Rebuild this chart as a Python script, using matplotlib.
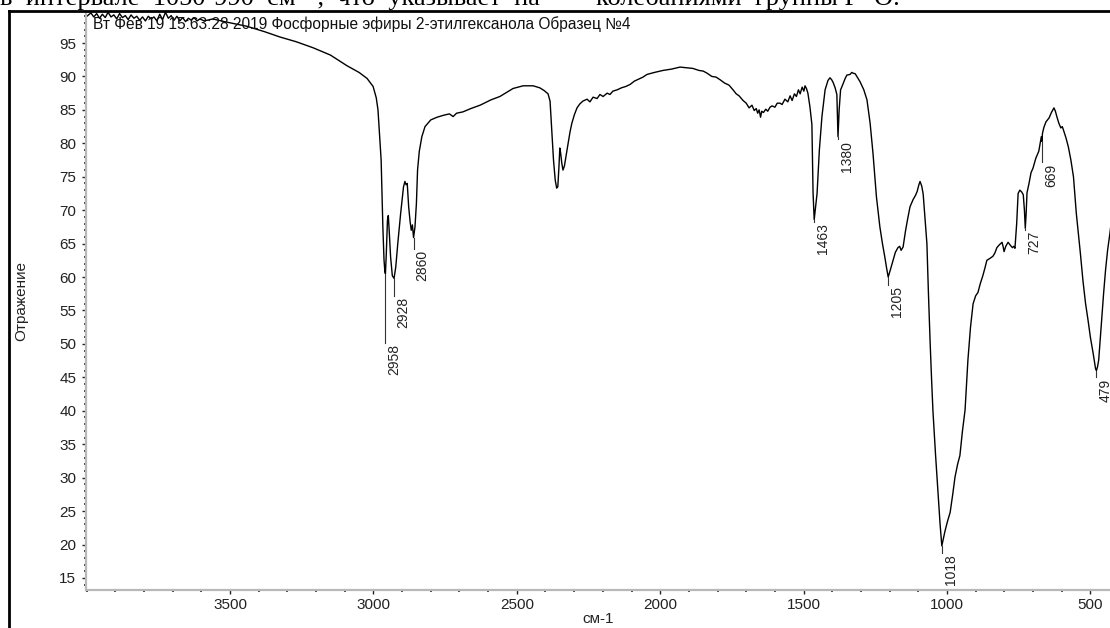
import numpy as np
import matplotlib
matplotlib.use("Agg")
import matplotlib.pyplot as plt
from matplotlib.lines import Line2D
from matplotlib.ticker import MultipleLocator

plt.rcParams['font.family'] = ['Liberation Sans', 'DejaVu Sans']

# --- IR spectrum, wavenumber (cm-1) vs reflectance (%) ---
wavenumber = [
    3999, 3985, 3975, 3965, 3955, 3945, 3935, 3925, 3915, 3905, 3895, 3885, 3875, 3865,
    3855, 3845, 3835, 3825, 3815, 3805, 3795, 3785, 3775, 3765, 3755, 3745, 3735, 3725,
    3715, 3705, 3695, 3685, 3675, 3665, 3655, 3645, 3635, 3625, 3615, 3605, 3590, 3570,
    3560, 3520, 3441, 3380, 3326, 3270, 3211, 3150, 3092, 3050, 3022, 3001, 2990, 2984,
    2978, 2973, 2970, 2967, 2963, 2960, 2958, 2955, 2951, 2948, 2945, 2940, 2934, 2928,
    2922, 2915, 2905, 2895, 2890, 2886, 2882, 2877, 2872, 2868, 2864, 2860, 2855, 2850,
    2846, 2840, 2831, 2820, 2800, 2778, 2755, 2735, 2722, 2710, 2688, 2660, 2628, 2590,
    2559, 2513, 2478, 2443, 2420, 2405, 2391, 2384, 2378, 2372, 2366, 2361, 2357, 2353,
    2350, 2347, 2343, 2339, 2334, 2328, 2321, 2314, 2308, 2299, 2290, 2280, 2270, 2255,
    2245, 2234, 2220, 2210, 2199, 2185, 2175, 2165, 2150, 2135, 2120, 2105, 2090, 2075,
    2060, 2046, 2020, 1990, 1960, 1931, 1910, 1886, 1865, 1850, 1837, 1820, 1805, 1791,
    1775, 1760, 1746, 1735, 1725, 1711, 1700, 1690, 1680, 1672, 1665, 1660, 1655, 1650,
    1646, 1640, 1632, 1625, 1617, 1610, 1600, 1592, 1582, 1575, 1565, 1555, 1547, 1540,
    1532, 1525, 1518, 1512, 1505, 1499, 1495, 1490, 1485, 1478, 1471, 1467, 1463, 1457,
    1453, 1445, 1436, 1425, 1415, 1408, 1402, 1397, 1390, 1384, 1380, 1376, 1371, 1366,
    1355, 1349, 1338, 1332, 1328, 1320, 1310, 1303, 1290, 1279, 1268, 1258, 1246, 1234,
    1225, 1216, 1210, 1205, 1198, 1188, 1180, 1171, 1165, 1160, 1153, 1145, 1138, 1129,
    1118, 1110, 1104, 1098, 1094, 1088, 1083, 1077, 1070, 1065, 1059, 1054, 1049, 1040,
    1031, 1024, 1018, 1012, 1007, 998, 989, 980, 972, 963, 955, 946, 937, 932,
    927, 918, 909, 900, 892, 884, 875, 868, 861, 850, 840, 833, 826, 818,
    808, 804, 801, 795, 787, 780, 772, 767, 763, 757, 752, 746, 739, 734,
    730, 727, 724, 721, 714, 707, 700, 690, 680, 675, 671, 669, 667, 662,
    655, 644, 636, 627, 622, 617, 610, 603, 598, 594, 585, 577, 568, 559,
    549, 542, 535, 526, 517, 508, 500, 490, 482, 479, 475, 471, 466, 461,
    454, 447, 440, 432, 425,
]
reflectance = [
    99.0, 99.5, 98.9, 99.4, 98.7, 99.3, 98.8, 99.6, 98.9, 99.2, 98.6, 99.4, 98.8, 99.1,
    98.5, 99.2, 98.7, 99.0, 98.4, 98.9, 98.3, 99.0, 98.6, 98.9, 98.3, 99.3, 98.5, 99.6,
    98.7, 99.1, 98.4, 99.0, 98.3, 98.8, 98.2, 98.7, 98.4, 98.8, 98.3, 98.6, 98.3, 98.5,
    98.6, 98.2, 97.5, 96.7, 95.9, 95.2, 94.3, 93.2, 91.6, 90.6, 89.7, 88.5, 86.8, 85.0,
    81.0, 77.5, 72.6, 67.5, 62.6, 60.8, 60.5, 63.5, 68.5, 69.2, 67.0, 63.0, 60.2, 59.8,
    61.5, 65.0, 69.5, 73.5, 74.3, 73.8, 74.0, 70.5, 68.3, 67.0, 67.8, 65.9, 67.5, 71.0,
    76.0, 78.8, 81.0, 82.5, 83.5, 83.9, 84.2, 84.4, 84.0, 84.5, 84.7, 85.2, 85.7, 86.5,
    87.0, 88.2, 88.6, 88.6, 88.3, 87.9, 87.4, 86.3, 82.0, 77.5, 74.5, 73.3, 73.5, 76.5,
    79.3, 78.5, 77.0, 76.0, 76.6, 78.2, 80.0, 81.8, 83.0, 84.3, 85.3, 85.9, 86.3, 86.6,
    86.2, 86.9, 86.7, 87.3, 87.0, 87.5, 87.3, 87.8, 88.0, 88.3, 88.5, 88.8, 89.3, 89.6,
    89.9, 90.3, 90.6, 90.9, 91.1, 91.4, 91.3, 91.2, 90.9, 90.8, 90.5, 90.0, 89.9, 89.5,
    89.0, 88.7, 88.0, 87.4, 87.1, 86.4, 86.0, 85.3, 85.7, 84.9, 85.2, 84.5, 85.0, 83.9,
    84.8, 84.6, 85.1, 84.8, 85.4, 85.6, 85.4, 86.0, 86.0, 85.8, 86.6, 86.2, 87.1, 86.4,
    87.4, 87.0, 88.0, 87.4, 88.4, 87.8, 88.6, 88.2, 87.5, 85.5, 82.8, 72.6, 68.6, 71.0,
    72.5, 79.0, 84.0, 88.0, 89.4, 89.8, 89.5, 89.1, 88.3, 87.3, 81.0, 85.0, 88.0, 88.5,
    89.7, 90.2, 90.3, 90.6, 90.5, 90.4, 89.7, 89.2, 88.0, 86.5, 83.0, 78.5, 72.0, 67.5,
    65.0, 62.8, 61.2, 60.0, 61.0, 62.5, 63.7, 64.4, 64.6, 64.0, 64.5, 66.8, 68.5, 70.5,
    71.6, 72.2, 72.8, 73.8, 74.3, 73.6, 72.4, 69.0, 65.0, 58.0, 50.5, 45.0, 40.0, 33.5,
    27.7, 23.0, 19.8, 21.0, 22.0, 23.5, 24.8, 27.5, 30.1, 32.0, 33.3, 37.0, 40.1, 44.0,
    47.6, 52.5, 56.0, 57.2, 57.7, 59.0, 60.2, 61.3, 62.5, 62.8, 63.1, 63.6, 64.4, 64.8,
    65.2, 64.5, 63.8, 64.6, 65.2, 64.8, 64.4, 64.6, 64.3, 68.0, 72.5, 73.0, 72.7, 72.3,
    70.0, 67.3, 69.5, 72.6, 74.0, 75.6, 76.3, 77.8, 78.8, 80.0, 81.0, 80.3, 81.5, 82.4,
    83.2, 83.8, 84.6, 85.3, 84.8, 84.0, 83.0, 82.3, 82.5, 82.0, 80.8, 79.5, 77.5, 75.0,
    69.5, 66.6, 63.6, 59.5, 56.1, 53.5, 51.0, 48.5, 46.3, 46.0, 46.6, 47.6, 50.5, 53.6,
    57.5, 61.1, 64.0, 66.5, 69.0,
]

# peak labels: position, minimum and where the leader line ends
peak_labels = ["2958", "2928", "2860", "1463", "1380", "1205", "1018", "727", "669", "479"]
peak_pos = [2958, 2928, 2860, 1463, 1380, 1205, 1018, 727, 669, 479]
peak_min = [60.5, 59.8, 65.9, 68.6, 81.0, 60.0, 19.8, 67.3, 80.3, 46.0]
leader_end = [50.2, 57.2, 64.2, 68.2, 80.6, 58.8, 18.7, 67.1, 77.2, 45.0]

y_ticks = list(range(15, 100, 5))
x_ticks = [3500, 3000, 2500, 2000, 1500, 1000, 500]

fig = plt.figure(figsize=(11.1, 6.28), dpi=100)
ax = fig.add_axes([0.0775, 0.0605, 0.9225, 0.920])

ax.plot(wavenumber, reflectance, color='black', lw=1.0)

for lab, wn, lo, hi in zip(peak_labels, peak_pos, peak_min, leader_end):
    ax.plot([wn, wn], [lo, hi], color='#333333', lw=0.8)
    ax.annotate(lab, (wn, hi), xytext=(1.5, -1), textcoords='offset points',
                rotation=90, ha='left', va='top', fontsize=10, color='#222222')

ax.set_xlim(4002, 431.6)
ax.set_ylim(13.2, 99.6)
ax.set_xticks(x_ticks)
ax.set_yticks(y_ticks)
ax.xaxis.set_minor_locator(MultipleLocator(100))
ax.yaxis.set_minor_locator(MultipleLocator(1))
ax.tick_params(which='major', direction='out', length=3, width=1, color='#222222',
               labelsize=11, labelcolor='#222222', pad=4)
ax.tick_params(which='minor', direction='out', length=1.2, width=1.2, color='#222222')
ax.tick_params(axis='x', which='major', pad=3)

for side in ('top', 'right'):
    ax.spines[side].set_visible(False)
for side in ('left', 'bottom'):
    ax.spines[side].set_color('#b8b8b8')
    ax.spines[side].set_linewidth(1.6)

ax.set_xlabel("см-1", fontsize=11, color='#222222', labelpad=0)
fig.text(21 / 1110, 0.52, "Отражение", rotation=90, ha='center', va='center',
         fontsize=11, color='#222222')

fig.text(93 / 1110, 1 - 24 / 628,
         "Вт Фев 19 15:63:28 2019 Фосфорные эфиры 2-этилгексанола Образец №4",
         ha='left', va='center', fontsize=11.2, color='#111111')

# page text above the chart and the page frame
serif = ['Liberation Serif', 'DejaVu Serif']
fig.text(0.0, 1 - 5 / 628, "в  интервале  1050-990  см⁻¹,  что  указывает  на",
         ha='left', va='baseline', fontsize=19, family=serif, color='black')
fig.text(596 / 1110, 1 - 5 / 628, "колебаниями  группы Р=О.",
         ha='left', va='baseline', fontsize=19, family=serif, color='black')
fig.add_artist(Line2D([9 / 1110, 1.0], [1 - 11 / 628, 1 - 11 / 628],
                      transform=fig.transFigure, color='black', lw=2))
fig.add_artist(Line2D([9 / 1110, 9 / 1110], [0.0, 1 - 11 / 628],
                      transform=fig.transFigure, color='black', lw=2))

fig.savefig("out.png", dpi=100)
